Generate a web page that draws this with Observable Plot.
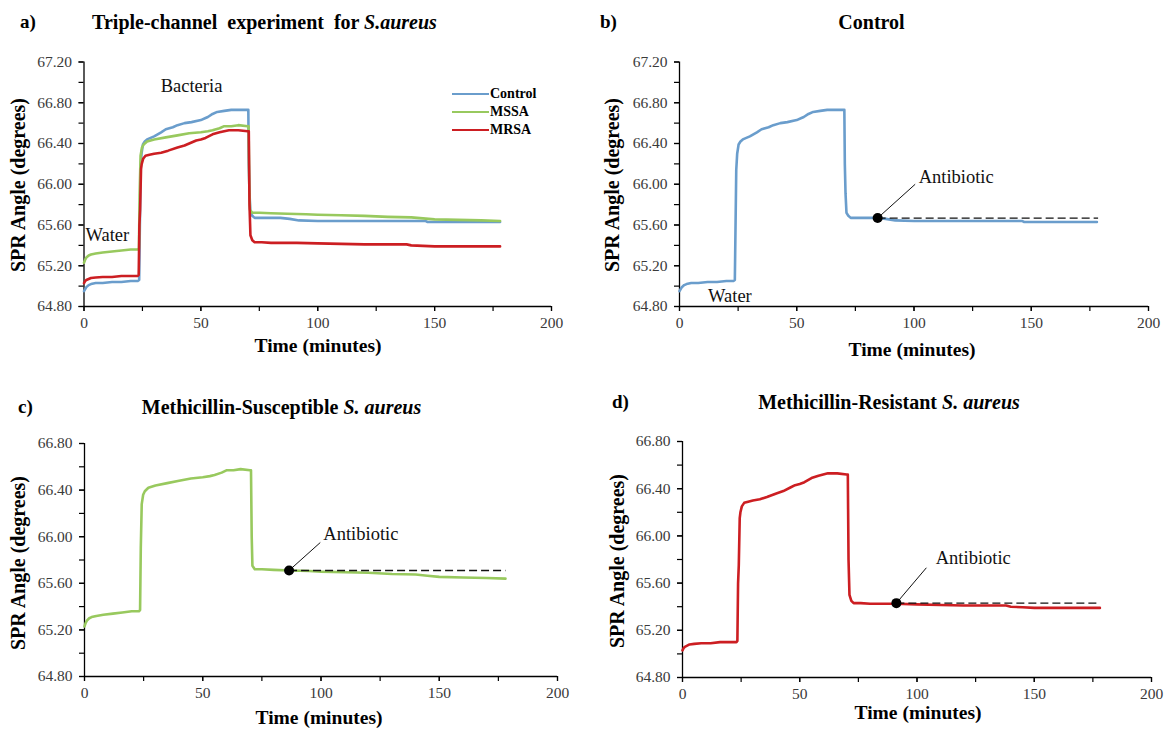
<!DOCTYPE html>
<html>
<head>
<meta charset="utf-8">
<script src="https://cdn.jsdelivr.net/npm/d3@7"></script>
<script src="https://cdn.jsdelivr.net/npm/@observablehq/plot@0.6"></script>
<style>
  html, body { margin: 0; padding: 0; background: #fff; }
  #root { position: relative; width: 1168px; height: 729px; overflow: hidden; font-family: "Liberation Serif", "Times New Roman", serif; }
  .panel { position: absolute; }
  .txt { position: absolute; white-space: nowrap; color: #000; font-family: "Liberation Serif", "Times New Roman", serif; }
  .ytitle { transform: translate(-50%, -50%) rotate(-90deg); font-weight: bold; font-size: 20px; }
  .xtitle { transform: translate(-50%, -50%); font-weight: bold; font-size: 19.5px; }
  .title { transform: translate(-50%, -50%); font-weight: bold; font-size: 20px; }
  .letter { transform: translateY(-50%); font-weight: bold; font-size: 19px; }
  .legend { position: absolute; font-family: "Liberation Serif", "Times New Roman", serif; font-weight: bold; font-size: 14px; }
  .legend .row { display: flex; align-items: center; height: 18px; }
  .legend .sw { width: 37px; height: 0; border-top: 2.5px solid; margin-right: 1px; }
</style>
</head>
<body>
<div id="root"></div>
<script>
// ---------------- DATA ----------------
const seriesNames = ["Control", "MSSA", "MRSA"];
const seriesColors = ["#6a9dcc", "#98c95e", "#cc1e22"];

const controlTime = [0, 0.5, 1, 2, 3, 5, 8, 12, 16, 20, 23, 23.6, 23.9, 24.2, 24.6, 25.2, 26, 27, 28, 30, 33, 35, 38, 40, 43, 46, 50, 52, 53, 55, 57, 60, 63, 66, 69, 70.3, 70.5, 70.8, 71.2, 72, 73, 76, 80, 84, 88, 92, 100, 110, 120, 130, 140, 146, 147, 155, 165, 178];
const controlAngle = [64.95, 64.97, 64.99, 65.01, 65.02, 65.03, 65.03, 65.04, 65.04, 65.05, 65.05, 65.06, 65.6, 66.14, 66.30, 66.39, 66.42, 66.44, 66.45, 66.47, 66.51, 66.54, 66.56, 66.58, 66.60, 66.61, 66.63, 66.65, 66.66, 66.69, 66.71, 66.72, 66.73, 66.73, 66.73, 66.73, 66.20, 65.91, 65.72, 65.69, 65.67, 65.67, 65.67, 65.67, 65.66, 65.645, 65.64, 65.64, 65.64, 65.64, 65.64, 65.64, 65.63, 65.63, 65.63, 65.63];

const mssaTime = [0, 0.5, 1, 2, 3, 5, 8, 12, 16, 20, 23, 23.5, 23.8, 24.2, 24.8, 25.5, 27, 30, 35, 40, 45, 50, 53, 55, 58, 60, 63, 66, 70, 70.4, 70.7, 71, 72, 75, 80, 87, 95, 100, 110, 120, 130, 140, 145, 150, 160, 170, 178];
const mssaAngle = [65.23, 65.26, 65.28, 65.30, 65.31, 65.32, 65.33, 65.34, 65.35, 65.36, 65.36, 65.37, 65.9, 66.28, 66.36, 66.39, 66.42, 66.44, 66.46, 66.48, 66.50, 66.51, 66.52, 66.53, 66.55, 66.57, 66.57, 66.58, 66.57, 66.57, 66.0, 65.75, 65.72, 65.72, 65.715, 65.71, 65.705, 65.70, 65.695, 65.69, 65.68, 65.675, 65.665, 65.655, 65.65, 65.645, 65.64];

const mrsaTime = [0, 0.5, 1, 2, 3, 5, 8, 12, 16, 20, 23, 23.4, 23.7, 24.0, 24.4, 24.7, 25.3, 26.3, 28, 30, 33, 36, 40, 43, 46, 48, 50, 52, 55, 58, 62, 66, 70, 70.5, 70.8, 71.2, 72, 73, 76, 80, 85, 91, 100, 110, 120, 130, 138, 140, 145, 150, 160, 170, 178];
const mrsaAngle = [65.03, 65.05, 65.06, 65.07, 65.08, 65.085, 65.09, 65.09, 65.10, 65.10, 65.10, 65.11, 65.6, 65.75, 66.15, 66.20, 66.25, 66.28, 66.29, 66.30, 66.31, 66.33, 66.36, 66.38, 66.41, 66.43, 66.44, 66.455, 66.49, 66.51, 66.53, 66.53, 66.52, 66.52, 65.8, 65.5, 65.45, 65.43, 65.43, 65.425, 65.425, 65.425, 65.42, 65.415, 65.41, 65.41, 65.41, 65.40, 65.395, 65.39, 65.39, 65.39, 65.39];

// antibiotic injection points (Control, MSSA, MRSA) and baseline end
const antibioticTime = [84.5, 86.5, 91.2];
const antibioticAngle = [65.668, 65.71, 65.43];
const baselineEnd = [178.5, 178, 178];
// leader line upper end and label anchor
const leaderTime = [100.5, 99.7, 104];
const leaderAngle = [66.0, 65.95, 65.73];
const labelTime = [102, 101, 108];
const labelAngle = [66.07, 66.02, 65.81];

// stage labels
const stageLabelsA = [{text: "Water", t: 10, v: 65.505}, {text: "Bacteria", t: 46, v: 66.96}];
const stageLabelsB = [{text: "Water", t: 21.5, v: 64.905}];

// axes
const xDomain = [0, 200];
const xTicksMajor = [0, 50, 100, 150, 200];
const xTicksAll = [0, 25, 50, 75, 100, 125, 150, 175, 200];
const yDomainTop = [64.8, 67.2];
const yDomainBottom = [64.8, 66.8];
const yTicksMajorTop = [64.8, 65.2, 65.6, 66.0, 66.4, 66.8, 67.2];
const yTicksAllTop = [64.8, 65.0, 65.2, 65.4, 65.6, 65.8, 66.0, 66.2, 66.4, 66.6, 66.8, 67.0, 67.2];
const yTicksMajorBottom = [64.8, 65.2, 65.6, 66.0, 66.4, 66.8];
const yTicksAllBottom = [64.8, 65.0, 65.2, 65.4, 65.6, 65.8, 66.0, 66.2, 66.4, 66.6, 66.8];

// ---------------- BUILD ----------------
const times = [controlTime, mssaTime, mrsaTime];
const angles = [controlAngle, mssaAngle, mrsaAngle];
const seriesData = seriesNames.map((name, i) => times[i].map((t, j) => ({name, t, v: angles[i][j]})));

const root = document.getElementById("root");
const FONT = "Liberation Serif, Times New Roman, serif";

function axesMarks(yDomain, yMajor, yAll) {
  return [
    Plot.axisX({ticks: xTicksAll, tickSize: 5, tickFormat: () => "", label: null, stroke: "black", strokeWidth: 1.2}),
    Plot.axisX({ticks: xTicksMajor, tickSize: 5, tickPadding: 5, tickFormat: d => String(d), label: null, fontSize: 15.5, fill: "#3a3a3a", stroke: "black", strokeWidth: 1.2}),
    Plot.axisY({ticks: yAll, tickSize: 5, tickFormat: () => "", label: null, stroke: "black", strokeWidth: 1.2}),
    Plot.axisY({ticks: yMajor, tickSize: 5, tickPadding: 7, tickFormat: d => d.toFixed(2), label: null, fontSize: 15.5, fill: "#3a3a3a", stroke: "black", strokeWidth: 1.2}),
    Plot.ruleX([xDomain[0]], {stroke: "black", strokeWidth: 1.3}),
    Plot.ruleY([yDomain[0]], {stroke: "black", strokeWidth: 1.3})
  ];
}

function panel({left, top, width, height, margins, yDomain, yMajor, yAll, idx, extra}) {
  const lines = idx.map(i => Plot.line(seriesData[i], {x: "t", y: "v", stroke: seriesColors[i], strokeWidth: 2.6, strokeLinejoin: "round"}));
  const chart = Plot.plot({
    width, height,
    marginLeft: margins[0], marginRight: margins[1], marginTop: margins[2], marginBottom: margins[3],
    x: {domain: xDomain},
    y: {domain: yDomain},
    style: {fontFamily: FONT, background: "transparent", overflow: "visible"},
    marks: [...axesMarks(yDomain, yMajor, yAll), ...lines, ...(extra || [])]
  });
  const div = document.createElement("div");
  div.className = "panel";
  div.style.left = left + "px";
  div.style.top = top + "px";
  div.appendChild(chart);
  root.appendChild(div);
}

function antibioticMarks(k) {
  const pt = [{t: antibioticTime[k], v: antibioticAngle[k]}];
  const base = [{t1: antibioticTime[k], t2: baselineEnd[k], v: antibioticAngle[k]}];
  const lead = [{t1: antibioticTime[k], v1: antibioticAngle[k], t2: leaderTime[k], v2: leaderAngle[k]}];
  const lab = [{t: labelTime[k], v: labelAngle[k], text: "Antibiotic"}];
  return [
    Plot.link(base, {x1: "t1", x2: "t2", y1: "v", y2: "v", stroke: "#111", strokeWidth: 1.3, strokeDasharray: "8,4"}),
    Plot.link(lead, {x1: "t1", y1: "v1", x2: "t2", y2: "v2", stroke: "#111", strokeWidth: 1}),
    Plot.dot(pt, {x: "t", y: "v", r: 5, fill: "black", stroke: "none"}),
    Plot.text(lab, {x: "t", y: "v", text: "text", textAnchor: "start", fontSize: 18.5, fill: "#111", fontFamily: FONT})
  ];
}

function stageText(arr) {
  return Plot.text(arr, {x: "t", y: "v", text: "text", fontSize: 18.5, fill: "#111", fontFamily: FONT});
}

// Panel a
panel({left: 0, top: 0, width: 584, height: 365, margins: [83.5, 33, 61.5, 59],
  yDomain: yDomainTop, yMajor: yTicksMajorTop, yAll: yTicksAllTop, idx: [0, 1, 2],
  extra: [stageText(stageLabelsA)]});
// Panel b
panel({left: 584, top: 0, width: 584, height: 365, margins: [95, 20, 61.5, 59],
  yDomain: yDomainTop, yMajor: yTicksMajorTop, yAll: yTicksAllTop, idx: [0],
  extra: [...antibioticMarks(0), stageText(stageLabelsB)]});
// Panel c
panel({left: 0, top: 365, width: 584, height: 364, margins: [84, 27, 78, 53],
  yDomain: yDomainBottom, yMajor: yTicksMajorBottom, yAll: yTicksAllBottom, idx: [1],
  extra: antibioticMarks(1)});
// Panel d
panel({left: 584, top: 365, width: 584, height: 364, margins: [98, 17, 76, 52],
  yDomain: yDomainBottom, yMajor: yTicksMajorBottom, yAll: yTicksAllBottom, idx: [2],
  extra: antibioticMarks(2)});

// ---------------- TEXT ----------------
function addText(html, x, y, cls) {
  const d = document.createElement("div");
  d.className = "txt " + (cls || "");
  d.innerHTML = html;
  d.style.left = x + "px";
  d.style.top = y + "px";
  root.appendChild(d);
  return d;
}
addText("a)", 20, 22, "letter");
addText("Triple-channel&nbsp; experiment&nbsp; for <i>S.aureus</i>", 264.5, 22, "title");
addText("b)", 600, 22, "letter");
addText("Control", 871.5, 22, "title");
addText("c)", 18, 407, "letter");
addText("Methicillin-Susceptible <i>S. aureus</i>", 281.5, 407, "title");
addText("d)", 612, 402, "letter");
addText("Methicillin-Resistant <i>S. aureus</i>", 889, 402, "title");

const yTitle = "SPR Angle (degrees)";
const xTitle = "Time (minutes)";
addText(yTitle, 18, 185, "ytitle");
addText(yTitle, 612, 185, "ytitle");
addText(yTitle, 18, 563, "ytitle");
addText(yTitle, 617, 561, "ytitle");
addText(xTitle, 318, 346, "xtitle");
addText(xTitle, 912, 350, "xtitle");
addText(xTitle, 319, 718, "xtitle");
addText(xTitle, 918, 713, "xtitle");

// legend for panel a
const leg = document.createElement("div");
leg.className = "legend";
leg.style.left = "452px";
leg.style.top = "85px";
seriesNames.forEach((n, i) => {
  const row = document.createElement("div");
  row.className = "row";
  const sw = document.createElement("div");
  sw.className = "sw";
  sw.style.borderTopColor = seriesColors[i];
  const lb = document.createElement("span");
  lb.textContent = n;
  row.appendChild(sw); row.appendChild(lb);
  leg.appendChild(row);
});
root.appendChild(leg);
</script>
</body>
</html>
